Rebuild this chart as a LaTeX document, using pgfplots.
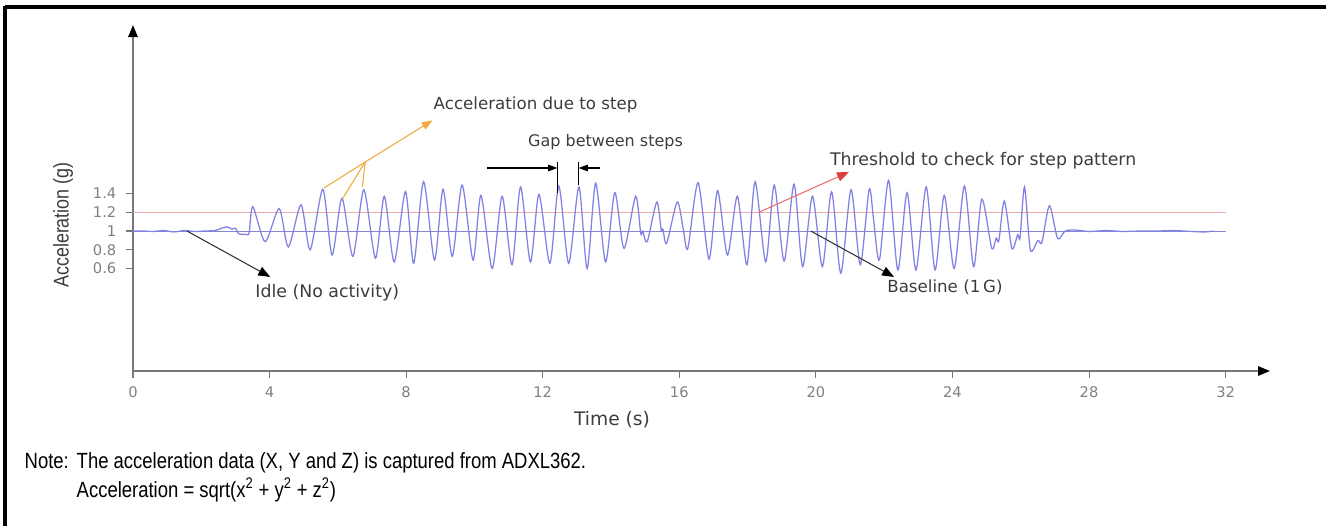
\documentclass[border=0pt]{standalone}
\usepackage{fontspec}
\setmainfont{DejaVu Sans}
\newfontfamily\narrow[FakeStretch=0.84]{Liberation Sans}
\usepackage{pgfplots}
\usepackage{pgfplotstable}
\pgfplotsset{compat=1.18}
\usetikzlibrary{arrows.meta}

\definecolor{sig}{RGB}{130,130,228}
\definecolor{thr}{RGB}{240,170,170}
\definecolor{base}{RGB}{135,135,205}
\definecolor{orangeA}{RGB}{240,170,60}
\definecolor{redA}{RGB}{225,60,60}
\definecolor{txt}{RGB}{60,60,60}
\definecolor{axisgray}{RGB}{120,120,120}

\pgfplotstableread{
x y
0 1.0
0.3 1.0
0.6 0.995
0.9 1.005
1.2 0.99
1.5 1.005
1.8 0.995
2.1 1.0
2.4 1.005
2.6 1.03
2.75 1.045
2.9 1.02
3.0 1.03
3.1 0.97
3.3 0.965
3.4 0.98
3.51 1.26
3.87 0.886
4.28 1.24
4.55 0.83
4.92 1.28
5.19 0.80
5.56 1.445
5.83 0.744
6.12 1.35
6.44 0.73
6.76 1.44
7.10 0.71
7.36 1.37
7.65 0.67
7.98 1.42
8.22 0.655
8.51 1.526
8.83 0.69
9.08 1.445
9.35 0.73
9.64 1.49
9.96 0.69
10.19 1.38
10.52 0.60
10.81 1.37
11.10 0.64
11.35 1.47
11.64 0.67
11.89 1.39
12.21 0.655
12.47 1.48
12.76 0.655
13.06 1.47
13.30 0.60
13.55 1.51
13.84 0.67
14.11 1.41
14.38 0.815
14.72 1.37
14.87 0.975
14.93 1.0
15.06 0.886
15.34 1.31
15.47 1.01
15.52 1.02
15.63 0.87
15.94 1.31
16.12 1.01
16.25 0.815
16.55 1.515
16.87 0.70
17.12 1.43
17.41 0.744
17.70 1.37
17.98 0.64
18.22 1.526
18.53 0.67
18.78 1.49
19.07 0.68
19.36 1.50
19.61 0.62
19.90 1.37
20.19 0.62
20.46 1.42
20.73 0.55
21.03 1.44
21.30 0.64
21.56 1.445
21.69 1.12
21.86 0.69
22.13 1.54
22.40 0.584
22.67 1.41
22.93 0.584
23.23 1.47
23.49 0.584
23.76 1.38
24.05 0.60
24.35 1.48
24.62 0.62
24.86 1.34
25.15 0.815
25.28 0.925
25.36 0.90
25.52 1.32
25.74 0.815
25.91 0.96
25.98 0.93
26.11 1.47
26.28 0.80
26.50 0.90
26.62 0.88
26.84 1.27
27.08 0.92
27.3 1.0
27.6 1.01
28.0 0.995
28.5 1.005
29.0 0.995
29.5 1.0
30.0 1.0
30.5 1.005
31.0 0.995
31.4 0.99
31.63 1.0
}\signal

\begin{document}
\begin{tikzpicture}[x=0.75pt,y=0.75pt]
\path[use as bounding box] (0,0) rectangle (1326,526);
% frame
\draw[line width=2.4pt] (5,519) -- (1326,519);
\draw[line width=2.4pt] (5,520.2) -- (5,0);

\begin{axis}[
  at={(99.75pt,116.25pt)}, anchor=south west,
  scale only axis, width=852.75pt, height=259.5pt,
  xmin=0, xmax=33.3, ymin=-0.493, ymax=3.197,
  axis x line=bottom, axis y line=left,
  axis line style={draw=axisgray, line width=1.5pt, -{Triangle[color=black,length=9pt,width=7pt]}},
  xtick={0,4,...,32},
  ytick={0.6,0.8,1,1.2,1.4},
  yticklabels={0.6,0.8,1,1.2,1.4},
  xticklabels={0,4,8,12,16,20,24,28,32},
  tick style={draw=axisgray, line width=0.8pt},
  tick align=outside, major tick length=5pt,
  ticklabel style={font=\fontsize{11}{12}\selectfont, text=gray},
  xticklabel style={yshift=-3pt},
  yticklabel style={xshift=-4pt},
  /pgf/number format/assume math mode=true,
  clip=false,
]
\addplot[thr, line width=1.1pt] coordinates {(0,1.2) (32,1.2)};
\addplot[base, line width=0.6pt] coordinates {(0,1) (32,1)};
\addplot[sig, line width=0.95pt, smooth, tension=0.45] table[x=x,y=y] {\signal};

% acceleration due to step
\draw[orangeA, line width=0.8pt] (axis cs:5.60,1.46) -- (axis cs:6.80,1.736);
\draw[orangeA, line width=0.8pt] (axis cs:6.13,1.34) -- (axis cs:6.80,1.736);
\draw[orangeA, line width=0.8pt] (axis cs:6.72,1.47) -- (axis cs:6.80,1.736);
\draw[orangeA, line width=0.8pt, -{Triangle[length=8pt,width=6pt]}] (axis cs:6.80,1.736) -- (axis cs:8.77,2.18);
\node[text=txt, font=\fontsize{12.5}{14}\selectfont] at (axis cs:11.79,2.34) {Acceleration due to step};

% gap between steps
\draw[black, line width=0.8pt, -{Triangle[length=7pt,width=5pt]}] (axis cs:10.38,1.672) -- (axis cs:12.43,1.672);
\draw[black, line width=0.8pt] (axis cs:12.43,1.736) -- (axis cs:12.43,1.405);
\draw[black, line width=0.8pt] (axis cs:13.05,1.736) -- (axis cs:13.05,1.49);
\draw[black, line width=0.8pt, -{Triangle[length=7pt,width=5pt]}] (axis cs:13.67,1.672) -- (axis cs:13.05,1.672);
\node[text=txt, font=\fontsize{12}{14}\selectfont] at (axis cs:13.84,1.95) {Gap between steps};

% threshold
\draw[redA!75!white, line width=0.8pt, -{Triangle[color=redA,length=9pt,width=7pt]}] (axis cs:18.33,1.2) -- (axis cs:20.97,1.63);
\node[text=txt, font=\fontsize{13}{14}\selectfont] at (axis cs:24.9,1.75) {Threshold to check for step pattern};

% baseline
\draw[black!80, line width=0.8pt, -{Triangle[color=black,length=9pt,width=7pt]}] (axis cs:19.85,1.0) -- (axis cs:22.29,0.51);
\node[text=txt, font=\fontsize{12.5}{14}\selectfont] at (axis cs:23.78,0.40) {Baseline (1\,G)};

% idle
\draw[black!80, line width=0.8pt, -{Triangle[color=black,length=9pt,width=7pt]}] (axis cs:1.58,1.0) -- (axis cs:4.02,0.51);
\node[text=txt, font=\fontsize{13}{14}\selectfont] at (axis cs:5.69,0.34) {Idle (No activity)};
\end{axis}

\node[text=txt, font=\fontsize{14}{16}\selectfont] at (612,106) {Time (s)};
\node[rotate=90, text=txt, font=\narrow\fontsize{16}{18}\selectfont] at (63,301) {Acceleration (g)};

\node[anchor=base west, font=\narrow\fontsize{16.5}{18}\selectfont] at (20,58) {Note:};
\node[anchor=base west, font=\narrow\fontsize{16.5}{18}\selectfont] at (72,58) {The acceleration data (X, Y and Z) is captured from ADXL362.};
\node[anchor=base west, font=\narrow\fontsize{16.5}{18}\selectfont] at (72,29) {Acceleration = sqrt(x\textsuperscript{2} + y\textsuperscript{2} + z\textsuperscript{2})};
\end{tikzpicture}
\end{document}
